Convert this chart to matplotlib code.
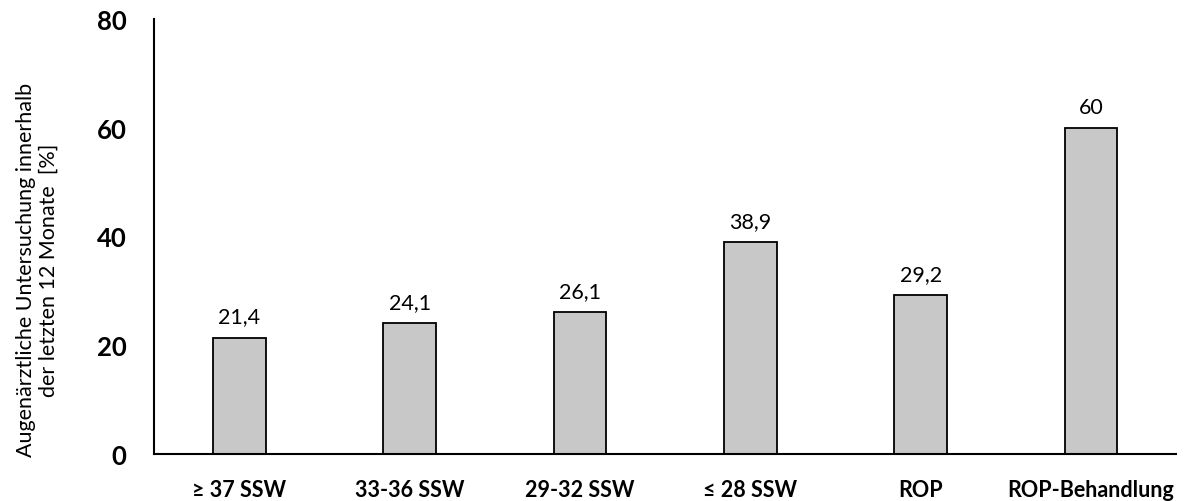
import matplotlib.pyplot as plt

# Eye examination within the last 12 months, by group
categories = ["≥ 37 SSW", "33-36 SSW", "29-32 SSW", "≤ 28 SSW", "ROP", "ROP-Behandlung"]
values = [21.4, 24.1, 26.1, 38.9, 29.2, 60]
value_labels = ["21,4", "24,1", "26,1", "38,9", "29,2", "60"]
y_ticks = [0, 20, 40, 60, 80]

plt.rcParams["font.family"] = ["Lato", "DejaVu Sans"]

fig = plt.figure(figsize=(11.85, 5.02), dpi=100)
ax = fig.add_axes([0.13, 0.094, 0.8625, 0.866])

x = range(len(categories))
bars = ax.bar(x, values, width=0.31, color="#C8C8C8", edgecolor="black", linewidth=1.3)

for bar, lbl in zip(bars, value_labels):
    ax.annotate(lbl, (bar.get_x() + bar.get_width() / 2, bar.get_height()),
                xytext=(0, 8), textcoords="offset points",
                ha="center", va="bottom", fontsize=15.5)

ax.set_xlim(-0.5, len(categories) - 0.5)
ax.set_ylim(0, 80)
ax.set_yticks(y_ticks)
ax.set_yticklabels([str(t) for t in y_ticks], fontsize=18.5, fontweight="bold")
ax.set_xticks(list(x))
ax.set_xticklabels(categories, fontsize=15.5, fontweight="bold")
ax.tick_params(axis="both", length=0)
ax.tick_params(axis="y", pad=20)
ax.tick_params(axis="x", pad=18)

for side in ["top", "right"]:
    ax.spines[side].set_visible(False)
for side in ["left", "bottom"]:
    ax.spines[side].set_linewidth(1.5)

ax.set_ylabel("Augenärztliche Untersuchung innerhalb\nder letzten 12 Monate  [%]",
              fontsize=15.5)
ax.yaxis.set_label_coords(-0.093, 0.425)

fig.savefig("out.png", dpi=100)
